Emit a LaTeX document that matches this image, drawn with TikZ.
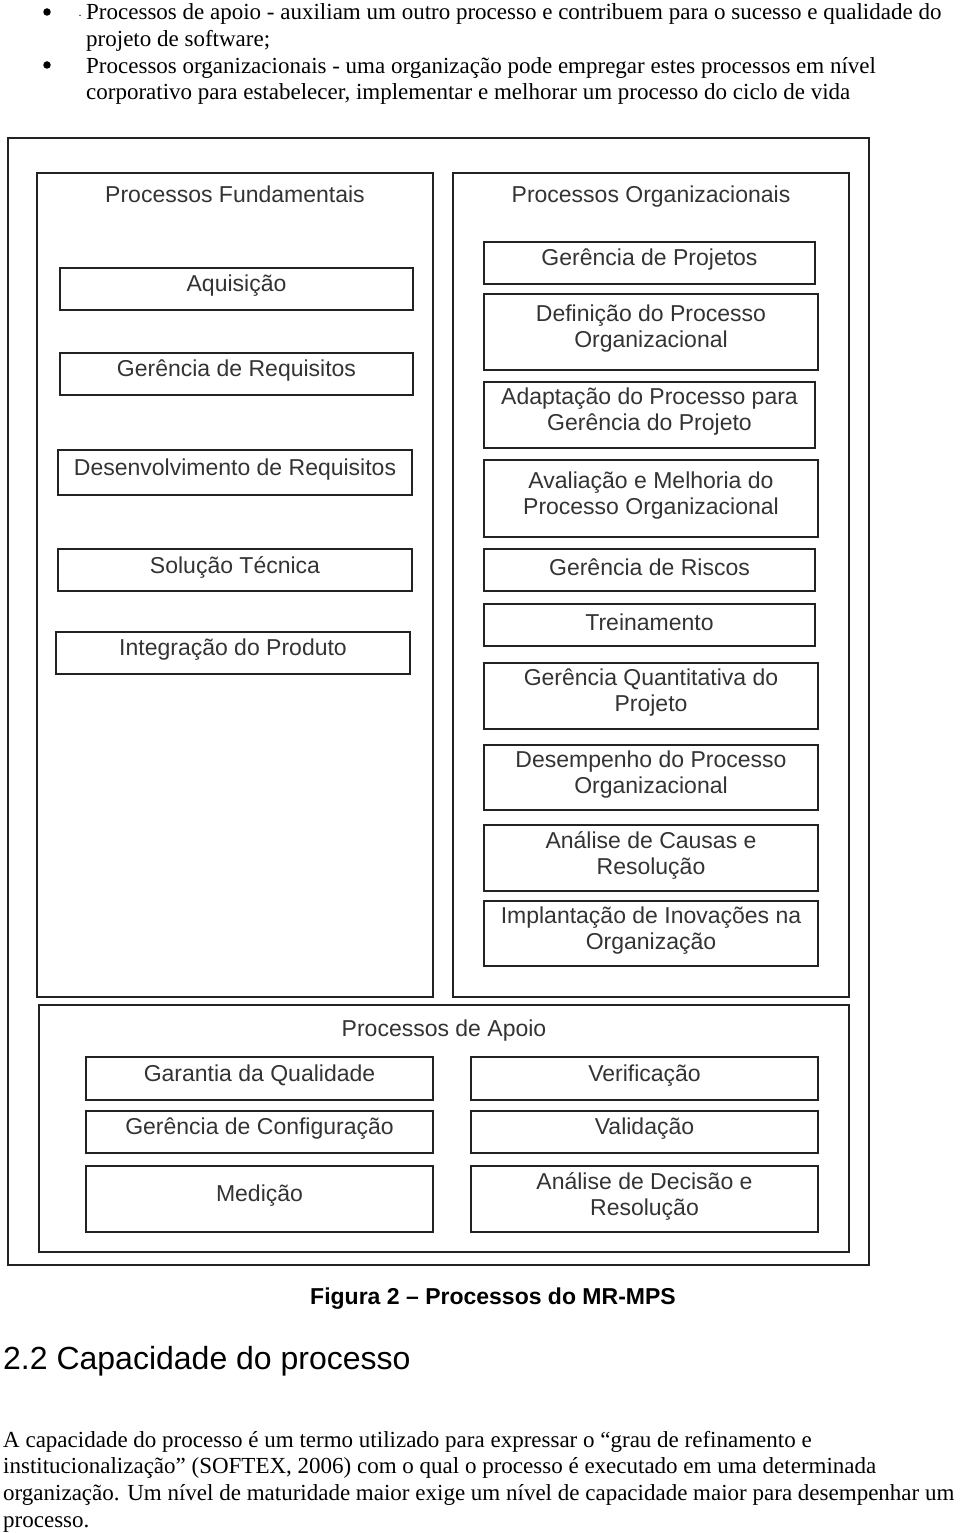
\documentclass[tikz,border=0pt]{standalone}
\usepackage{fontspec}
\setmainfont{Liberation Serif}
\setsansfont{Liberation Sans}
\definecolor{ink}{HTML}{222222}
\definecolor{boxtext}{HTML}{333333}
\tikzset{
  pframe/.style={draw=ink, line width=1.6pt, inner sep=0pt},
  ptext/.style={inner sep=0pt, align=center,
    font=\sffamily\fontsize{23}{26}\selectfont, text=boxtext},
  panel/.style={draw=ink, line width=1.6pt},
  ptitle/.style={font=\sffamily\fontsize{23}{26}\selectfont, text=boxtext, inner sep=0pt, anchor=base},
  bodytext/.style={font=\fontsize{23}{27}\selectfont, anchor=base west, inner sep=0pt, text=black},
  bulletmark/.style={circle, fill=black, inner sep=0pt, minimum size=7.5pt}
}
\newcommand\pb[6]{%
  \node[pframe, minimum width={#4-#2}, minimum height={#5-#3}] (#1) at ({(#2+#4)/2},{(#3+#5)/2}) {};
  \node[ptext] (#1-t) at ([yshift=3pt]#1.center) {#6};}
\begin{document}
\begin{tikzpicture}[x=1pt,y=-1pt]
\useasboundingbox (0,0) rectangle (960,1533);
% top bullets
\node[bulletmark] (b1) at (47,12) {};
\node[bulletmark] (b2) at (47,65) {};
\node[font=\fontsize{12}{12}\selectfont, inner sep=0pt] (dot) at (80,16) {.};
\node[bodytext] (t1) at (86,20) {Processos de apoio - auxiliam um outro processo e contribuem para o sucesso e qualidade do};
\node[bodytext] (t2) at (86,47) {projeto de software;};
\node[bodytext] (t3) at (86,74) {Processos organizacionais - uma organização pode empregar estes processos em nível};
\node[bodytext] (t4) at (86,100) {corporativo para estabelecer, implementar e melhorar um processo do ciclo de vida};
% frames
\draw[draw=ink, line width=1.3pt] (8,138) rectangle (869,1265);
\draw[panel] (37,173) rectangle (433,997);
\draw[panel] (453,173) rectangle (849,997);
\draw[panel] (39,1005) rectangle (849,1252);
\node[ptitle] (tf) at (235,203) {Processos Fundamentais};
\node[ptitle] (to) at (651,203) {Processos Organizacionais};
\node[ptitle] (ta) at (444,1036) {Processos de Apoio};
% left
\pb{aq}{60}{268}{413}{310}{Aquisição}
\pb{gr}{60}{353}{413}{395}{Gerência de Requisitos}
\pb{dr}{58}{450}{412}{495}{Desenvolvimento de Requisitos}
\pb{st}{58}{549}{412}{591}{Solução Técnica}
\pb{ip}{56}{632}{410}{674}{Integração do Produto}
% right
\pb{gp}{484}{242}{815}{284}{Gerência de Projetos}
\pb{dp}{484}{294}{818}{370}{Definição do Processo\\Organizacional}
\pb{ap}{484}{382}{815}{448}{Adaptação do Processo para\\Gerência do Projeto}
\pb{am}{484}{460}{818}{537}{Avaliação e Melhoria do\\Processo Organizacional}
\pb{gri}{484}{549}{815}{591}{Gerência de Riscos}
\pb{tr}{484}{604}{815}{646}{Treinamento}
\pb{gq}{484}{663}{818}{729}{Gerência Quantitativa do\\Projeto}
\pb{de}{484}{745}{818}{810}{Desempenho do Processo\\Organizacional}
\pb{ac}{484}{825}{818}{891}{Análise de Causas e\\Resolução}
\pb{ii}{484}{901}{818}{966}{Implantação de Inovações na\\Organização}
% bottom
\pb{gqa}{86}{1057}{433}{1100}{Garantia da Qualidade}
\pb{gc}{86}{1111}{433}{1153}{Gerência de Configuração}
\pb{me}{86}{1166}{433}{1232}{Medição}
\pb{ve}{471}{1057}{818}{1100}{Verificação}
\pb{va}{471}{1111}{818}{1153}{Validação}
\pb{ad}{471}{1166}{818}{1232}{Análise de Decisão e\\Resolução}
% caption and section
\node[font=\sffamily\bfseries\fontsize{23}{26}\selectfont, anchor=base, inner sep=0pt] (cap) at (493,1304) {Figura 2 – Processos do MR-MPS};
\node[font=\sffamily\fontsize{32}{36}\selectfont, anchor=base west, inner sep=0pt] (sec) at (3,1369) {2.2 Capacidade do processo};
\node[bodytext] (p1) at (3,1447) {A capacidade do processo é um termo utilizado para expressar o “grau de refinamento e};
\node[bodytext] (p2) at (3,1473) {institucionalização” (SOFTEX, 2006) com o qual o processo é executado em uma determinada};
\node[bodytext] (p3) at (3,1500) {organização. Um nível de maturidade maior exige um nível de capacidade maior para desempenhar um};
\node[bodytext] (p4) at (3,1527) {processo.};
\end{tikzpicture}
\end{document}
